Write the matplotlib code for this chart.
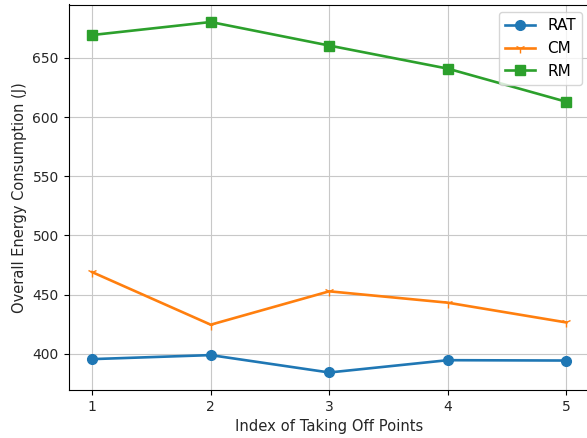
"""Overall energy consumption by taking-off point index."""

import matplotlib

matplotlib.use("Agg")
import matplotlib.pyplot as plt  # noqa: E402

points = [1, 2, 3, 4, 5]
rat = [395.5, 398.9, 384.2, 394.6, 394.3]
cm = [469.0, 424.6, 452.8, 443.2, 426.5]
rm = [669.4, 680.4, 660.5, 641.0, 613.0]


def main():
    fig = plt.figure(figsize=(5.87, 4.38), dpi=100)
    W, H = 587, 438
    ax = fig.add_axes([68.5 / W, (H - 390) / H, (590 - 68.5) / W, (390 - 4.5) / H])
    style = dict(markersize=7, linewidth=1.9)
    ax.plot(points, rat, marker="o", label="RAT", **style)
    ax.plot(points, cm, marker="1", label="CM", **style)
    ax.plot(points, rm, marker="s", label="RM", **style)
    ax.set_xlim(0.8, 5.2)
    ax.set_ylim(369.4, 695.2)
    ax.set_xticks(points)
    ax.tick_params(labelcolor="#262626")
    ax.grid(True, color="#c8c8c8")
    ax.set_axisbelow(True)
    ax.set_xlabel("Index of Taking Off Points", fontsize=10.6, color="#262626")
    ax.set_ylabel("Overall Energy Consumption (J)", fontsize=10.5, color="#262626")
    ax.legend(loc="upper right", fontsize=11)
    fig.savefig("out.png", dpi=100)


if __name__ == "__main__":
    main()
